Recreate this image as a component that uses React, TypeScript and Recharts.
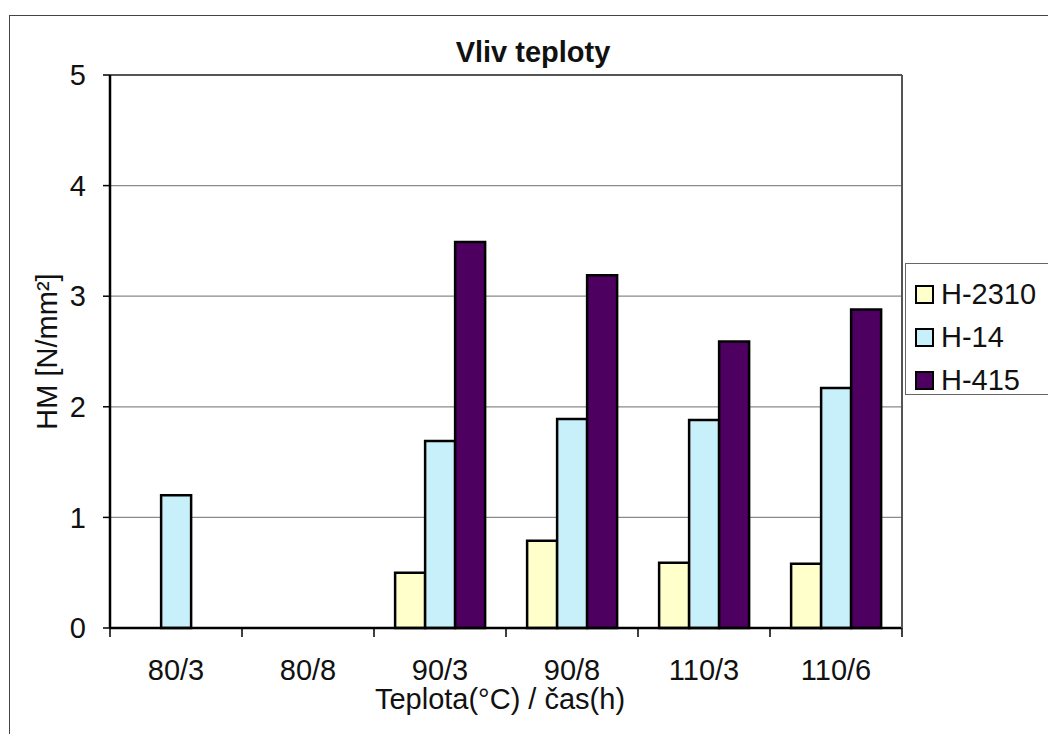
import { BarChart, Bar, XAxis, YAxis, CartesianGrid, ReferenceLine } from 'recharts';

const categories = ['80/3', '80/8', '90/3', '90/8', '110/3', '110/6'];
const h2310 = [null, null, 0.5, 0.79, 0.59, 0.58];
const h14 = [1.2, null, 1.69, 1.89, 1.88, 2.17];
const h415 = [null, null, 3.49, 3.19, 2.59, 2.88];
const yTicks = [0, 1, 2, 3, 4, 5];

const SERIES = [
  { key: 'H-2310', values: h2310, color: '#FFFFCC' },
  { key: 'H-14', values: h14, color: '#C8F0FA' },
  { key: 'H-415', values: h415, color: '#4E0060' },
];

const W = 1048;
const H = 734;
const PLOT_LEFT = 110;
const PLOT_RIGHT = 902;
const PLOT_TOP = 75;
const PLOT_BOTTOM = 628;
const HALF_BAND = (PLOT_RIGHT - PLOT_LEFT) / categories.length / 2;
const FONT = '"Liberation Sans", Arial, sans-serif';
const FS = 29;

const data = categories.map((c, i) => {
  const row: Record<string, string | number | null> = { cat: c };
  SERIES.forEach((s) => (row[s.key] = s.values[i]));
  return row;
});

function XTick(props: any) {
  const { x, payload, index } = props;
  const last = index === categories.length - 1;
  return (
    <g>
      <line x1={x - HALF_BAND} x2={x - HALF_BAND} y1={PLOT_BOTTOM} y2={PLOT_BOTTOM + 9} stroke="#000" strokeWidth={1.5} />
      {last && <line x1={x + HALF_BAND} x2={x + HALF_BAND} y1={PLOT_BOTTOM} y2={PLOT_BOTTOM + 9} stroke="#000" strokeWidth={1.5} />}
      <text x={x} y={PLOT_BOTTOM + 52} textAnchor="middle" fontSize={FS} fontFamily={FONT} fill="#111">
        {payload.value}
      </text>
    </g>
  );
}

function LegendBox() {
  return (
    <div
      style={{
        position: 'absolute',
        left: 905,
        top: 263,
        width: 150,
        height: 132,
        border: '1.5px solid #666',
        background: '#fff',
        boxSizing: 'border-box',
        paddingTop: 9,
        fontFamily: FONT,
      }}
    >
      {SERIES.map((s) => (
        <div key={s.key} style={{ display: 'flex', alignItems: 'center', height: 43, paddingLeft: 9 }}>
          <span style={{ width: 15, height: 15, background: s.color, border: '2px solid #000', marginRight: 7, flexShrink: 0 }} />
          <span style={{ fontSize: FS, color: '#111', lineHeight: 1 }}>{s.key}</span>
        </div>
      ))}
    </div>
  );
}

export default function App() {
  return (
    <div style={{ position: 'absolute', left: 0, top: 0, width: W, height: H, overflow: 'hidden', background: '#fff' }}>
      <div style={{ position: 'absolute', left: 9, top: 15, width: 1100, height: 800, border: '1.5px solid #444' }} />
      <div style={{ position: 'absolute', left: 0, top: 0 }}>
        <BarChart
          width={W}
          height={H}
          data={data}
          margin={{ top: PLOT_TOP, left: PLOT_LEFT - 60, right: W - PLOT_RIGHT - 1, bottom: H - PLOT_BOTTOM - 40 }}
          barCategoryGap="16%"
          barGap={0}
        >
          <CartesianGrid vertical={false} stroke="#8a8a8a" strokeWidth={1.2} yAxisId="left" />
          <XAxis dataKey="cat" height={40} tick={<XTick />} tickLine={false} axisLine={{ stroke: '#000', strokeWidth: 2.5 }} interval={0} />
          <YAxis
            yAxisId="left"
            domain={[0, 5]}
            ticks={yTicks}
            width={60}
            tickSize={7}
            tickMargin={17}
            tick={{ fontSize: FS, fill: '#111', fontFamily: FONT }}
            tickLine={{ stroke: '#000', strokeWidth: 1.5 }}
            axisLine={{ stroke: '#000', strokeWidth: 2.5 }}
            interval={0}
          />
          <YAxis yAxisId="right" orientation="right" width={1} tick={false} tickLine={false} axisLine={{ stroke: '#555', strokeWidth: 2 }} domain={[0, 5]} />
          <ReferenceLine yAxisId="left" y={5} stroke="#555" strokeWidth={2} />
          {SERIES.map((s) => (
            <Bar
              key={s.key}
              yAxisId="left"
              dataKey={s.key}
              fill={s.color}
              stroke="#000"
              strokeWidth={2.5}
              isAnimationActive={false}
            />
          ))}
        </BarChart>
      </div>
      <LegendBox />
      <svg width={W} height={H} style={{ position: 'absolute', left: 0, top: 0, pointerEvents: 'none' }}>
        <text x={533} y={62} textAnchor="middle" fontSize={FS} fontWeight="bold" fontFamily={FONT} fill="#111">
          Vliv teploty
        </text>
        <text x={500} y={709} textAnchor="middle" fontSize={FS} fontFamily={FONT} fill="#111">
          Teplota(°C) / čas(h)
        </text>
        <text
          x={47}
          y={(PLOT_TOP + PLOT_BOTTOM) / 2}
          textAnchor="middle"
          dominantBaseline="central"
          transform={`rotate(-90 47 ${(PLOT_TOP + PLOT_BOTTOM) / 2})`}
          fontSize={FS}
          fontFamily={FONT}
          fill="#111"
        >
          HM [N/mm²]
        </text>
      </svg>
    </div>
  );
}
